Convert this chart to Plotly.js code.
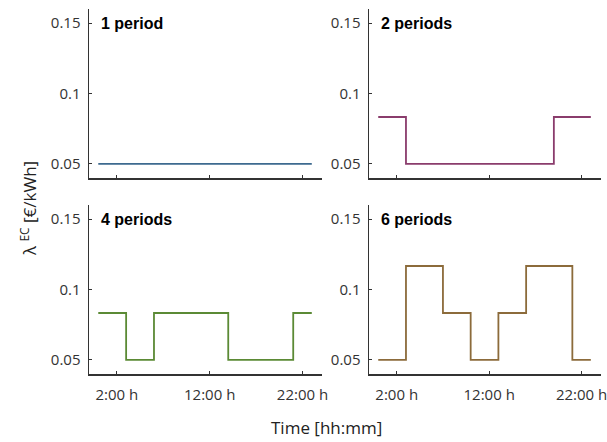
<!DOCTYPE html>
<html>
<head>
<meta charset="utf-8">
<script src="https://cdn.plot.ly/plotly-3.0.1.min.js"></script>
<style>html,body{margin:0;padding:0;background:#fff;}#chart{width:607px;height:442px;}</style>
</head>
<body>
<div id="chart"></div>
<script>
// Hour of day (step starts)
var hours = [0,1,2,3,4,5,6,7,8,9,10,11,12,13,14,15,16,17,18,19,20,21,22,23];
// Energy cost λ^EC [€/kWh] per hour for each tariff scheme
var period1 = [0.05,0.05,0.05,0.05,0.05,0.05,0.05,0.05,0.05,0.05,0.05,0.05,0.05,0.05,0.05,0.05,0.05,0.05,0.05,0.05,0.05,0.05,0.05,0.05];
var period2 = [0.0833,0.0833,0.0833,0.05,0.05,0.05,0.05,0.05,0.05,0.05,0.05,0.05,0.05,0.05,0.05,0.05,0.05,0.05,0.05,0.0833,0.0833,0.0833,0.0833,0.0833];
var period4 = [0.0833,0.0833,0.0833,0.05,0.05,0.05,0.0833,0.0833,0.0833,0.0833,0.0833,0.0833,0.0833,0.0833,0.05,0.05,0.05,0.05,0.05,0.05,0.05,0.0833,0.0833,0.0833];
var period6 = [0.05,0.05,0.05,0.1167,0.1167,0.1167,0.1167,0.0833,0.0833,0.0833,0.05,0.05,0.05,0.0833,0.0833,0.0833,0.1167,0.1167,0.1167,0.1167,0.1167,0.05,0.05,0.05];
var panelLabels = ["1 period","2 periods","4 periods","6 periods"];
var xTickVals = [2,12,22];
var xTickText = ["2:00 h","12:00 h","22:00 h"];
var yTickVals = [0.05,0.1,0.15];
var yTickText = ["0.05","0.1","0.15"];
var colors = ["#3d6a8f","#8a3c6c","#5b8a35","#8c6b3b"];

var series = [period1, period2, period4, period6];
var axIds = [["x","y"],["x2","y2"],["x3","y3"],["x4","y4"]];
var traces = series.map(function(s,i){
  return {x:hours, y:s, xaxis:axIds[i][0], yaxis:axIds[i][1], mode:"lines",
    line:{shape:"hv", color:colors[i], width:1.8}, hoverinfo:"skip", showlegend:false};
});

var tickFont = {family:"Open Sans, sans-serif", size:15, color:"#333"};
function xa(dom, anchor, labels){
  return {domain:dom, anchor:anchor, range:[-1,24.1], showgrid:false, zeroline:false,
    showline:true, linecolor:"#333", linewidth:1.5, ticks:"inside", ticklen:3, tickwidth:1, tickcolor:"#333",
    tickvals:xTickVals, ticktext:xTickText, showticklabels:labels, tickfont:tickFont, ticklabelstandoff:6,
    ticklabeloverflow:"allow"};
}
function ya(dom, anchor){
  return {domain:dom, anchor:anchor, range:[0.04,0.16], showgrid:false, zeroline:false,
    showline:true, linecolor:"#333", linewidth:1.5, ticks:"inside", ticklen:3, tickwidth:1, tickcolor:"#333",
    tickvals:yTickVals, ticktext:yTickText, tickfont:tickFont, ticklabelstandoff:4, ticklabeloverflow:"allow"};
}
var xL=[89/607,322/607], xR=[369/607,601/607];
var yT=[1-178/442,1-9/442], yB=[1-374/442,1-205/442];

var annFont = {family:"Liberation Sans, Arial, sans-serif", size:16, color:"#000"};
var anns = panelLabels.map(function(t,i){
  return {text:"<b>"+t+"</b>", xref:axIds[i][0]+" domain", yref:axIds[i][1], x:0.045, y:0.15,
    xanchor:"left", yanchor:"middle", showarrow:false, font:annFont};
});
anns.push({text:"Time [hh:mm]", xref:"paper", yref:"paper", x:326/607, y:1-427/442,
  xanchor:"center", yanchor:"middle", showarrow:false, font:{family:"Open Sans, sans-serif", size:17, color:"#222"}});
anns.push({text:"λ <sup>EC</sup> [€/kWh]", xref:"paper", yref:"paper", x:28/607, y:1-209/442,
  xanchor:"center", yanchor:"middle", textangle:-90, showarrow:false, font:{family:"Open Sans, sans-serif", size:17, color:"#222"}});

var layout = {width:607, height:442, margin:{l:0,r:0,t:0,b:0}, paper_bgcolor:"#fff", plot_bgcolor:"#fff",
  xaxis:xa(xL,"y",false), yaxis:ya(yT,"x"),
  xaxis2:xa(xR,"y2",false), yaxis2:ya(yT,"x2"),
  xaxis3:xa(xL,"y3",true), yaxis3:ya(yB,"x3"),
  xaxis4:xa(xR,"y4",true), yaxis4:ya(yB,"x4"),
  annotations:anns};
Plotly.newPlot("chart", traces, layout, {staticPlot:true});
</script>
</body>
</html>
